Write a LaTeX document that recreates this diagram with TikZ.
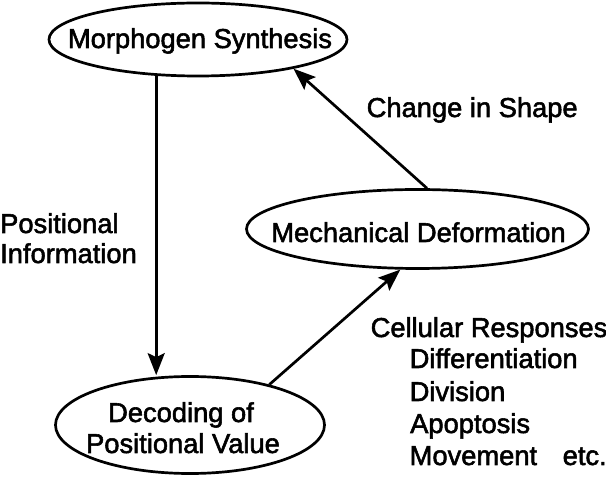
\documentclass[tikz,border=0pt]{standalone}
\usepackage{fontspec}
\setmainfont{Liberation Sans}[FakeBold=2]
\usetikzlibrary{shapes.geometric,arrows.meta}
\begin{document}
\begin{tikzpicture}[x=1pt,y=-1pt,
  ell/.style={draw, ellipse, line width=2.7pt, inner sep=0pt},
  lbl/.style={font=\fontsize{27.3}{31}\selectfont, inner sep=0pt},
  arr/.style={line width=2.7pt, -{Stealth[length=22pt,width=17pt,inset=4pt]}}]
\useasboundingbox (0,0) rectangle (606,478);
\node[ell, minimum width=298pt, minimum height=73pt] (morph) at (198,39.5) {};
\node[ell, minimum width=342pt, minimum height=79pt] (mech) at (417.5,229) {};
\node[ell, minimum width=269pt, minimum height=97pt] (dec) at (190,425) {};
\node[lbl, anchor=base] (tmorph) at (200,48) {Morphogen Synthesis};
\node[lbl, anchor=base] (tmech) at (418.5,242) {Mechanical Deformation};
\node[lbl, anchor=base] (tdec1) at (181,422) {Decoding of};
\node[lbl, anchor=base] (tdec2) at (183,453) {Positional Value};
\node[lbl, anchor=base west] (tpos1) at (0,233) {Positional};
\node[lbl, anchor=base west] (tpos2) at (0,263) {Information};
\node[lbl, anchor=base west] (tshape) at (366.5,117) {Change in Shape};
\node[lbl, anchor=base west] (tcell) at (370.5,337) {Cellular Responses};
\node[lbl, anchor=base west] (tdiff) at (409.5,368) {Differentiation};
\node[lbl, anchor=base west] (tdiv) at (409.5,401) {Division};
\node[lbl, anchor=base west] (tapo) at (410,433) {Apoptosis};
\node[lbl, anchor=base west] (tmov) at (409.5,465) {Movement};
\node[lbl, anchor=base west] (tetc) at (562.5,465) {etc.};
\draw[arr] (morph.221.4) -- (morph.221.4 |- dec.north);
\draw[arr] (dec.27) -- (mech.247);
\draw[arr] (mech.77) -- (morph.343);
\end{tikzpicture}
\end{document}
